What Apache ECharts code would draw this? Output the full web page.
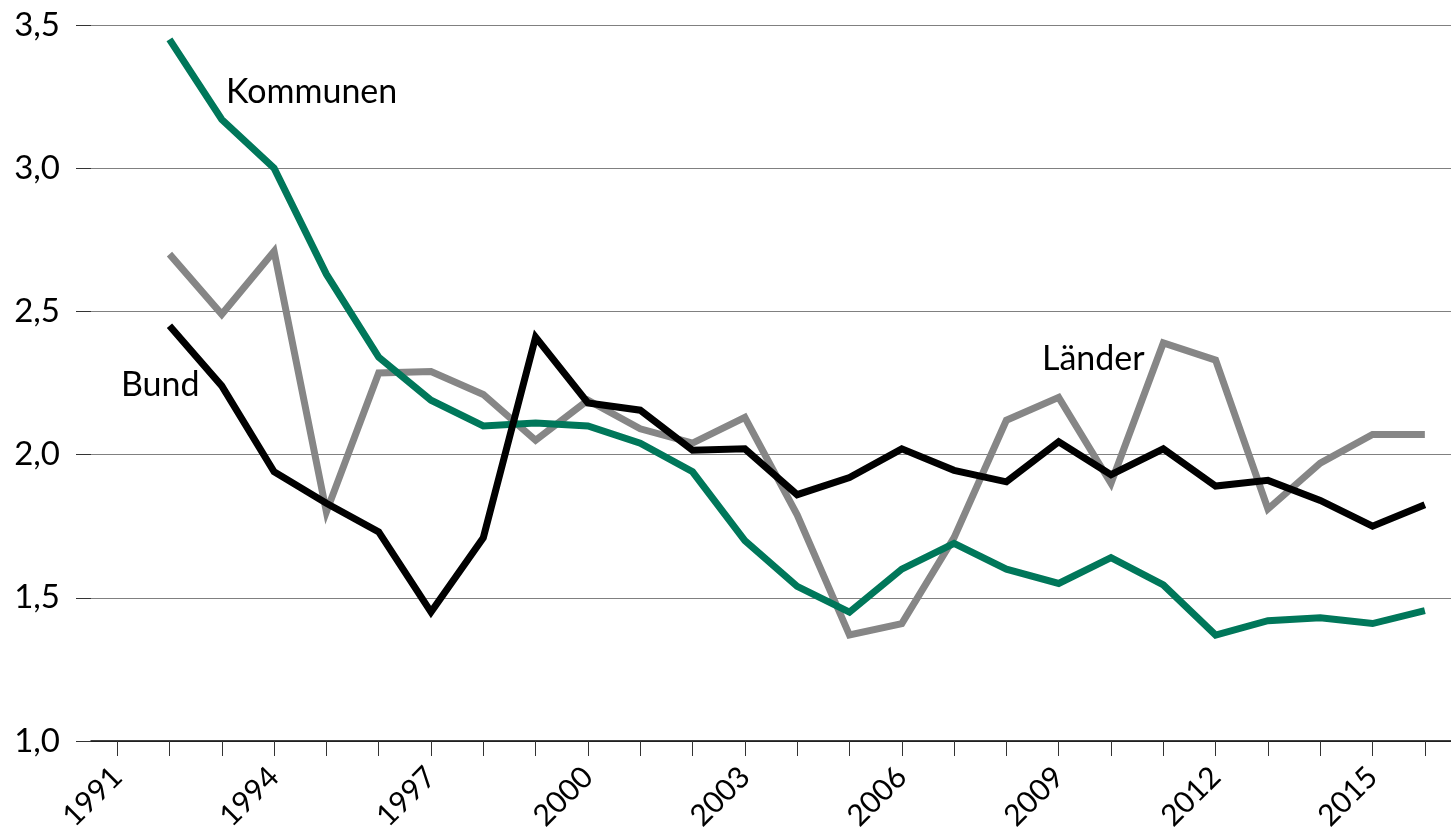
<!DOCTYPE html>
<html>
<head>
<meta charset="utf-8">
<script src="https://cdn.jsdelivr.net/npm/echarts@6/dist/echarts.min.js"></script>
<style>
  html, body { margin: 0; padding: 0; background: #fff; }
  #chart { width: 1451px; height: 828px; }
</style>
</head>
<body>
<div id="chart"></div>
<script>
const years = ['1991', '1992', '1993', '1994', '1995', '1996', '1997', '1998', '1999', '2000',
  '2001', '2002', '2003', '2004', '2005', '2006', '2007', '2008', '2009', '2010',
  '2011', '2012', '2013', '2014', '2015', '2016']

// 1991 has no value
const kommunen = [null, 3.45, 3.17, 3.00, 2.63, 2.34, 2.19, 2.10, 2.11, 2.10,
  2.04, 1.94, 1.70, 1.54, 1.45, 1.60, 1.69, 1.60, 1.55, 1.64,
  1.545, 1.37, 1.42, 1.43, 1.41, 1.455]

const laender = [null, 2.70, 2.49, 2.71, 1.80, 2.285, 2.29, 2.21, 2.05, 2.19,
  2.09, 2.04, 2.13, 1.79, 1.37, 1.41, 1.71, 2.12, 2.20, 1.90,
  2.39, 2.33, 1.81, 1.97, 2.07, 2.07]

const bund = [null, 2.45, 2.24, 1.94, 1.83, 1.73, 1.45, 1.71, 2.41, 2.18,
  2.155, 2.015, 2.02, 1.86, 1.92, 2.02, 1.945, 1.905, 2.045, 1.93,
  2.02, 1.89, 1.91, 1.84, 1.75, 1.825]

const yTicks = [1.0, 1.5, 2.0, 2.5, 3.0, 3.5]

const font = 'Lato, "Open Sans", sans-serif'
const chart = echarts.init(document.getElementById('chart'))

function lineSeries(name, data, color) {
  return {
    name,
    type: 'line',
    data,
    symbol: 'none',
    connectNulls: false,
    lineStyle: { color, width: 7, join: 'miter' },
    emphasis: { disabled: true }
  }
}

chart.setOption({
  animation: false,
  backgroundColor: '#fff',
  grid: { left: 91, right: 0, top: 25, bottom: 87, outerBoundsMode: 'none' },
  xAxis: {
    type: 'category',
    data: years,
    boundaryGap: true,
    axisLine: { lineStyle: { color: '#000', width: 1.5 } },
    axisTick: { show: true, interval: 0, alignWithLabel: true, length: 15, lineStyle: { color: '#333', width: 1 } },
    axisLabel: {
      interval: 2,
      rotate: 45,
      margin: 31,
      color: '#000',
      fontSize: 30,
      fontFamily: font
    },
    splitLine: { show: false }
  },
  yAxis: {
    type: 'value',
    min: yTicks[0],
    max: yTicks[yTicks.length - 1],
    interval: 0.5,
    axisLine: { show: false },
    axisTick: { show: true, length: 15, lineStyle: { color: '#333' } },
    axisLabel: {
      margin: 31,
      color: '#000',
      fontSize: 33,
      fontFamily: font,
      formatter: (v) => v.toFixed(1).replace('.', ',')
    },
    splitLine: { lineStyle: { color: '#808080', width: 1 } }
  },
  series: [
    lineSeries('Länder', laender, '#868686'),
    lineSeries('Kommunen', kommunen, '#00775a'),
    lineSeries('Bund', bund, '#000000')
  ],
  graphic: [
    { type: 'text', left: 226, top: 75, style: { text: 'Kommunen', fontSize: 34, fontFamily: font, fill: '#000' } },
    { type: 'text', left: 121, top: 368, style: { text: 'Bund', fontSize: 34, fontFamily: font, fill: '#000' } },
    { type: 'text', left: 1042, top: 342, style: { text: 'Länder', fontSize: 34, fontFamily: font, fill: '#000' } }
  ]
})
</script>
</body>
</html>
